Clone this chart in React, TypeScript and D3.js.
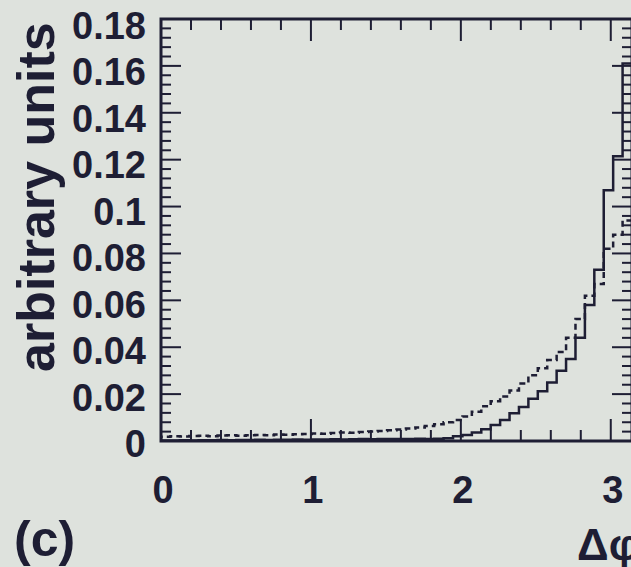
import React, { useRef, useEffect } from 'react';
import * as d3 from 'd3';

// histogram contents, 50 bins from 0 to pi
const solidValues = [
  0.0002, 0.0002, 0.0003, 0.0002, 0.0003, 0.0003, 0.0004, 0.0003, 0.0004, 0.0004,
  0.0005, 0.0004, 0.0005, 0.0005, 0.0006, 0.0005, 0.0006, 0.0006, 0.0007, 0.0006,
  0.0007, 0.0008, 0.0007, 0.0008, 0.0009, 0.0008, 0.0009, 0.0010, 0.0009, 0.0010,
  0.0012, 0.0020, 0.0026, 0.0036, 0.0050, 0.0068, 0.0090, 0.0118, 0.0145, 0.0180,
  0.0212, 0.0250, 0.0300, 0.0350, 0.0440, 0.0580, 0.0730, 0.1070, 0.1215, 0.1610,
];
const dashedValues = [
  0.0018, 0.0020, 0.0019, 0.0021, 0.0022, 0.0020, 0.0023, 0.0024, 0.0022, 0.0025,
  0.0026, 0.0025, 0.0028, 0.0027, 0.0029, 0.0030, 0.0032, 0.0031, 0.0034, 0.0036,
  0.0035, 0.0038, 0.0041, 0.0043, 0.0046, 0.0049, 0.0053, 0.0058, 0.0064, 0.0071,
  0.0080, 0.0090, 0.0105, 0.0125, 0.0148, 0.0170, 0.0190, 0.0215, 0.0245, 0.0280,
  0.0310, 0.0345, 0.0380, 0.0440, 0.0520, 0.0620, 0.0670, 0.0820, 0.0880, 0.0940,
];
const yTickLabels = ['0', '0.02', '0.04', '0.06', '0.08', '0.1', '0.12', '0.14', '0.16', '0.18'];
const xTickLabels = ['0', '1', '2', '3'];

const ink = '#1e1e34';

export default function App() {
  const svgRef = useRef<SVGSVGElement>(null);

  useEffect(() => {
    const svg = d3.select(svgRef.current);
    svg.selectAll('*').remove();

    const left = 161, right = 632, top = 19, bottom = 441;
    const x = d3.scaleLinear().domain([0, Math.PI]).range([left, right]);
    const y = d3.scaleLinear().domain([0, 0.18]).range([bottom, top]);

    svg.append('rect').attr('width', 631).attr('height', 567).attr('fill', '#dee2dd');

    svg.append('clipPath').attr('id', 'plot-clip')
      .append('rect').attr('x', left).attr('y', top).attr('width', right - left).attr('height', bottom - top);

    // histograms
    const binW = Math.PI / solidValues.length;
    const stepPts = (vals: number[]) => {
      const pts: [number, number][] = [[0, 0]];
      vals.forEach((v, i) => pts.push([i * binW, v]));
      pts.push([vals.length * binW, vals[vals.length - 1]]);
      return pts;
    };
    const line = d3.line<[number, number]>()
      .x(d => x(d[0]))
      .y(d => y(d[1]))
      .curve(d3.curveStepAfter);

    const g = svg.append('g').attr('clip-path', 'url(#plot-clip)');
    g.append('path').attr('d', line(stepPts(dashedValues)))
      .attr('fill', 'none').attr('stroke', ink).attr('stroke-width', 2.5)
      .attr('stroke-dasharray', '6,4');
    g.append('path').attr('d', line(stepPts(solidValues)))
      .attr('fill', 'none').attr('stroke', ink).attr('stroke-width', 2.5);

    // ticks on all four sides, pointing inwards
    const ticks = svg.append('g').attr('stroke', ink).attr('stroke-width', 2);
    d3.range(0, Math.PI + 1e-9, 0.2).forEach(v => {
      const major = Math.abs(v - Math.round(v)) < 1e-6;
      const len = major ? 22 : 11;
      ticks.append('line').attr('x1', x(v)).attr('x2', x(v)).attr('y1', bottom).attr('y2', bottom - len);
      ticks.append('line').attr('x1', x(v)).attr('x2', x(v)).attr('y1', top).attr('y2', top + len);
    });
    d3.range(0, 0.18 + 1e-9, 0.004).forEach(v => {
      const major = Math.abs(v / 0.02 - Math.round(v / 0.02)) < 1e-6;
      const len = major ? 20 : 10;
      ticks.append('line').attr('x1', left).attr('x2', left + len).attr('y1', y(v)).attr('y2', y(v));
      ticks.append('line').attr('x1', right).attr('x2', right - len).attr('y1', y(v)).attr('y2', y(v));
    });

    // frame
    svg.append('rect').attr('x', left).attr('y', top).attr('width', right - left).attr('height', bottom - top)
      .attr('fill', 'none').attr('stroke', ink).attr('stroke-width', 3);

    const font = "'Liberation Sans', Arial, sans-serif";

    // y tick labels
    svg.append('g').selectAll('text').data(yTickLabels).enter().append('text')
      .attr('x', 146)
      .attr('y', (d, i) => y(i * 0.02) + 16 + i * 0.4)
      .attr('text-anchor', 'end')
      .attr('font-family', font).attr('font-weight', 'bold').attr('font-size', 38)
      .attr('fill', ink)
      .text(d => d);

    // x tick labels
    svg.append('g').selectAll('text').data(xTickLabels).enter().append('text')
      .attr('x', (d, i) => x(i) + 2)
      .attr('y', 503)
      .attr('text-anchor', 'middle')
      .attr('font-family', font).attr('font-weight', 'bold').attr('font-size', 38)
      .attr('fill', ink)
      .text(d => d);

    // axis titles
    svg.append('text')
      .attr('transform', 'translate(54,372) rotate(-90)')
      .attr('font-family', font).attr('font-weight', 'bold').attr('font-size', 52)
      .attr('fill', ink)
      .text('arbitrary units');

    svg.append('text')
      .attr('x', 577).attr('y', 560)
      .attr('font-family', font).attr('font-weight', 'bold').attr('font-size', 44)
      .attr('fill', ink)
      .text('Δφ');

    svg.append('text')
      .attr('x', 14).attr('y', 556)
      .attr('font-family', font).attr('font-weight', 'bold').attr('font-size', 50)
      .attr('fill', ink)
      .text('(c)');
  }, []);

  return (
    <svg ref={svgRef} width={631} height={567}
      style={{ position: 'absolute', left: 0, top: 0, display: 'block' }} />
  );
}
